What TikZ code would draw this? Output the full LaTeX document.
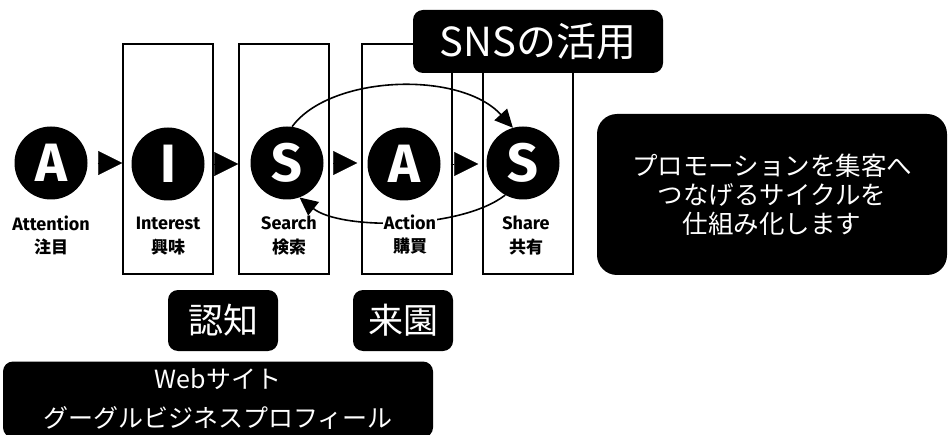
\documentclass[tikz,border=0pt]{standalone}
\usepackage{fontspec}
\setmainfont{Noto Sans CJK JP}
\newfontfamily\latinb{Fira Sans}
\usetikzlibrary{arrows.meta,calc}
\tikzset{
  stagebox/.style={draw, line width=1.6pt, minimum width=90pt, minimum height=230pt, inner sep=0pt},
  stagecircle/.style={circle, fill=black, text=white, minimum size=73pt, inner sep=0pt,
    font=\latinb\bfseries\fontsize{54}{54}\selectfont},
  lbl/.style={font=\latinb\bfseries\fontsize{18}{18}\selectfont, inner sep=1pt},
  lblj/.style={font=\bfseries\fontsize{17}{17}\selectfont, inner sep=1pt},
  blackbox/.style={fill=black, text=white, rounded corners=10pt, inner sep=0pt, align=center},
  flow/.style={-{Triangle[length=24pt,width=24pt]}, line width=0.1pt, shorten <=10pt},
  loop/.style={line width=1.6pt, -{Triangle[length=18pt,width=17pt]}},
}
\begin{document}
\begin{tikzpicture}[x=1pt,y=-1pt]
\clip (0,0) rectangle (949,435);
\fill[white] (0,0) rectangle (949,435);
% stage boxes
\node[stagebox] (ibox) at (168,159) {};
\node[stagebox] (sbox) at (284,159) {};
\node[stagebox] (abox) at (407,159) {};
\node[stagebox] (shbox) at (528,159) {};
% SNS box
\node[blackbox, minimum width=250pt, minimum height=63pt, font=\fontsize{40}{40}\selectfont] (sns) at (538,41.5) {SNSの活用};
% circles
\node[stagecircle] (a1) at (51,163) {A};
\node[stagecircle] (i1) at (168,164) {I};
\node[stagecircle] (s1) at (287,163) {S};
\node[stagecircle] (a2) at (404,164) {A};
\node[stagecircle] (s2) at (523,163) {S};
% flow triangles
\coordinate (t3e) at ($(s1.east -| abox.west)+(-4,0)$);
\coordinate (t4e) at ($(a2.east -| shbox.west)+(-4,0)$);
\draw[flow] (a1.east) -- (a1.east -| ibox.west);
\draw[flow] (i1.east) -- (i1.east -| sbox.west);
\draw[flow, shorten <=12pt] (s1.east) -- (t3e);
\draw[flow] (a2.east) -- (t4e);
% loop arcs
\draw[loop] (s1.82) .. controls (330,75) and (460,70) .. (s2.106);
\draw[loop] (s2.241) .. controls (460,230) and (340,230) .. (s1.290);
% labels
\node[lbl] (l1) at (51,223) {Attention};
\node[lblj] (l1j) at (51,247) {注目};
\node[lbl] (l2) at (168,223) {Interest};
\node[lblj] (l2j) at (168,247) {興味};
\node[lbl] (l3) at (289,223) {Search};
\node[lblj] (l3j) at (289,247) {検索};
\node[lbl, fill=white] (l4) at (410,222) {Action};
\node[lblj] (l4j) at (410,246) {購買};
\node[lbl] (l5) at (526,223) {Share};
\node[lblj] (l5j) at (526,247) {共有};
% right box
\node[blackbox, rounded corners=20pt, minimum width=350pt, minimum height=161pt,
  font=\fontsize{25.5}{29}\selectfont] (cycle) at (772,194.5)
  {プロモーションを集客へ\\つなげるサイクルを\\仕組み化します};
% bottom boxes
\node[blackbox, minimum width=110pt, minimum height=61pt, font=\fontsize{35}{35}\selectfont] (ninchi) at (223,320.5) {認知};
\node[blackbox, minimum width=100pt, minimum height=61pt, font=\fontsize{35}{35}\selectfont] (raien) at (403,320.5) {来園};
\node[blackbox, minimum width=430pt, minimum height=76pt, font=\fontsize{25}{39}\selectfont] (web) at (218,399.5)
  {Webサイト\\グーグルビジネスプロフィール};
\end{tikzpicture}
\end{document}
